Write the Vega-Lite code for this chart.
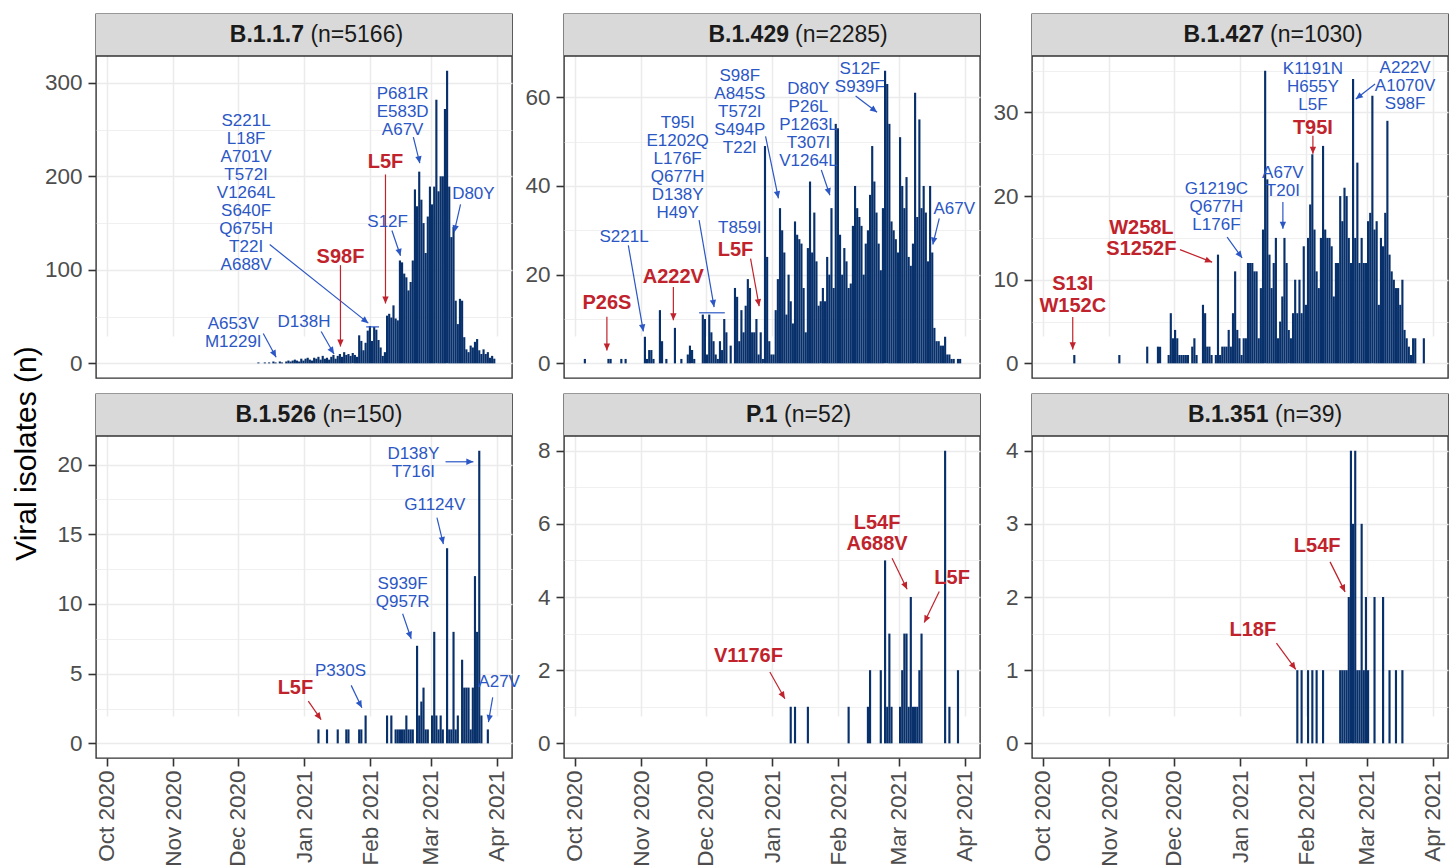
{
"$schema": "https://vega.github.io/schema/vega-lite/v6.json",
"background": "white",
"padding": {"left": 10, "top": 13, "right": 0, "bottom": 0},
"config": {
  "font": "Liberation Sans",
  "view": {"stroke": "#333333", "strokeWidth": 1.4},
  "axis": {"domain": false, "grid": true, "gridColor": "#ebebeb", "tickColor": "#333333", "tickWidth": 1.6, "tickSize": 8, "labelFont": "Liberation Sans", "labelFontSize": 22.5, "labelColor": "#4d4d4d", "labelPadding": 6, "labelOverlap": false, "labelBound": false, "labelFlush": false}
},
"datasets": {
  "strips": [{"panel":"B.1.1.7","n":"(n=5166)"},{"panel":"B.1.429","n":"(n=2285)"},{"panel":"B.1.427","n":"(n=1030)"},{"panel":"B.1.526","n":"(n=150)"},{"panel":"P.1","n":"(n=52)"},{"panel":"B.1.351","n":"(n=39)"}],
  "b117": [
    {"date":"2020-12-10","n":1},{"date":"2020-12-13","n":1},{"date":"2020-12-15","n":1},{"date":"2020-12-17","n":2},{"date":"2020-12-18","n":1},{"date":"2020-12-20","n":2},{"date":"2020-12-21","n":1},{"date":"2020-12-23","n":2},{"date":"2020-12-24","n":3},{"date":"2020-12-25","n":2},{"date":"2020-12-26","n":3},{"date":"2020-12-27","n":4},{"date":"2020-12-28","n":3},{"date":"2020-12-29","n":2},{"date":"2020-12-30","n":5},{"date":"2020-12-31","n":3},
    {"date":"2021-01-01","n":5},{"date":"2021-01-02","n":6},{"date":"2021-01-03","n":4},{"date":"2021-01-04","n":3},{"date":"2021-01-05","n":6},{"date":"2021-01-06","n":5},{"date":"2021-01-07","n":7},{"date":"2021-01-08","n":4},{"date":"2021-01-09","n":8},{"date":"2021-01-10","n":5},{"date":"2021-01-11","n":6},{"date":"2021-01-12","n":4},{"date":"2021-01-13","n":7},{"date":"2021-01-14","n":9},{"date":"2021-01-15","n":5},{"date":"2021-01-16","n":8},{"date":"2021-01-17","n":10},{"date":"2021-01-18","n":7},{"date":"2021-01-19","n":12},{"date":"2021-01-20","n":9},{"date":"2021-01-21","n":10},{"date":"2021-01-22","n":8},{"date":"2021-01-23","n":11},{"date":"2021-01-24","n":9},{"date":"2021-01-25","n":7},
    {"date":"2021-01-26","n":30},{"date":"2021-01-27","n":24},{"date":"2021-01-28","n":14},{"date":"2021-01-29","n":22},{"date":"2021-01-30","n":35},{"date":"2021-01-31","n":40},
    {"date":"2021-02-01","n":24},{"date":"2021-02-02","n":39},{"date":"2021-02-03","n":36},{"date":"2021-02-04","n":25},{"date":"2021-02-05","n":17},{"date":"2021-02-06","n":8},{"date":"2021-02-07","n":12},{"date":"2021-02-08","n":51},{"date":"2021-02-09","n":53},{"date":"2021-02-10","n":49},{"date":"2021-02-11","n":62},{"date":"2021-02-12","n":48},{"date":"2021-02-13","n":46},{"date":"2021-02-14","n":110},{"date":"2021-02-15","n":108},{"date":"2021-02-16","n":96},{"date":"2021-02-17","n":92},{"date":"2021-02-18","n":78},{"date":"2021-02-19","n":87},{"date":"2021-02-20","n":110},{"date":"2021-02-21","n":186},{"date":"2021-02-22","n":168},{"date":"2021-02-23","n":205},{"date":"2021-02-24","n":175},{"date":"2021-02-25","n":150},{"date":"2021-02-26","n":118},{"date":"2021-02-27","n":157},{"date":"2021-02-28","n":189},
    {"date":"2021-03-01","n":170},{"date":"2021-03-02","n":189},{"date":"2021-03-03","n":282},{"date":"2021-03-04","n":184},{"date":"2021-03-05","n":200},{"date":"2021-03-06","n":200},{"date":"2021-03-07","n":272},{"date":"2021-03-08","n":313},{"date":"2021-03-09","n":189},{"date":"2021-03-10","n":135},{"date":"2021-03-11","n":146},{"date":"2021-03-12","n":67},{"date":"2021-03-13","n":42},{"date":"2021-03-14","n":69},{"date":"2021-03-15","n":67},{"date":"2021-03-16","n":28},{"date":"2021-03-17","n":15},{"date":"2021-03-18","n":12},{"date":"2021-03-19","n":19},{"date":"2021-03-20","n":17},{"date":"2021-03-21","n":23},{"date":"2021-03-22","n":26},{"date":"2021-03-23","n":14},{"date":"2021-03-24","n":10},{"date":"2021-03-25","n":15},{"date":"2021-03-26","n":10},{"date":"2021-03-27","n":12},{"date":"2021-03-28","n":6},{"date":"2021-03-29","n":8},{"date":"2021-03-30","n":5}
  ],
  "b429": [
    {"date":"2020-10-05","n":1},{"date":"2020-10-16","n":1},{"date":"2020-10-17","n":1},{"date":"2020-10-22","n":1},{"date":"2020-10-24","n":1},
    {"date":"2020-11-02","n":6},{"date":"2020-11-03","n":1},{"date":"2020-11-04","n":3},{"date":"2020-11-05","n":3},{"date":"2020-11-06","n":1},{"date":"2020-11-09","n":12},{"date":"2020-11-10","n":5},{"date":"2020-11-12","n":1},{"date":"2020-11-16","n":8},{"date":"2020-11-19","n":1},{"date":"2020-11-22","n":2},{"date":"2020-11-23","n":4},{"date":"2020-11-24","n":3},{"date":"2020-11-25","n":1},{"date":"2020-11-29","n":11},{"date":"2020-11-30","n":10},
    {"date":"2020-12-01","n":2},{"date":"2020-12-02","n":11},{"date":"2020-12-03","n":7},{"date":"2020-12-04","n":5},{"date":"2020-12-05","n":2},{"date":"2020-12-06","n":1},{"date":"2020-12-07","n":5},{"date":"2020-12-08","n":3},{"date":"2020-12-09","n":10},{"date":"2020-12-10","n":7},{"date":"2020-12-12","n":4},{"date":"2020-12-14","n":17},{"date":"2020-12-15","n":15},{"date":"2020-12-16","n":5},{"date":"2020-12-17","n":12},{"date":"2020-12-18","n":7},{"date":"2020-12-19","n":13},{"date":"2020-12-20","n":19},{"date":"2020-12-21","n":17},{"date":"2020-12-22","n":7},{"date":"2020-12-23","n":7},{"date":"2020-12-24","n":10},{"date":"2020-12-25","n":2},{"date":"2020-12-26","n":7},{"date":"2020-12-27","n":1},{"date":"2020-12-28","n":49},{"date":"2020-12-29","n":24},{"date":"2020-12-30","n":5},{"date":"2020-12-31","n":2},
    {"date":"2021-01-01","n":2},{"date":"2021-01-02","n":12},{"date":"2021-01-03","n":19},{"date":"2021-01-04","n":35},{"date":"2021-01-05","n":30},{"date":"2021-01-06","n":25},{"date":"2021-01-07","n":11},{"date":"2021-01-08","n":20},{"date":"2021-01-09","n":14},{"date":"2021-01-10","n":9},{"date":"2021-01-11","n":32},{"date":"2021-01-12","n":29},{"date":"2021-01-13","n":28},{"date":"2021-01-14","n":27},{"date":"2021-01-15","n":17},{"date":"2021-01-16","n":7},{"date":"2021-01-17","n":26},{"date":"2021-01-18","n":41},{"date":"2021-01-19","n":25},{"date":"2021-01-20","n":34},{"date":"2021-01-21","n":23},{"date":"2021-01-22","n":13},{"date":"2021-01-23","n":14},{"date":"2021-01-24","n":17},{"date":"2021-01-25","n":14},{"date":"2021-01-26","n":24},{"date":"2021-01-27","n":20},{"date":"2021-01-28","n":35},{"date":"2021-01-29","n":17},{"date":"2021-01-30","n":54},{"date":"2021-01-31","n":53},
    {"date":"2021-02-01","n":29},{"date":"2021-02-02","n":20},{"date":"2021-02-03","n":26},{"date":"2021-02-04","n":23},{"date":"2021-02-05","n":17},{"date":"2021-02-06","n":18},{"date":"2021-02-07","n":31},{"date":"2021-02-08","n":40},{"date":"2021-02-09","n":35},{"date":"2021-02-10","n":33},{"date":"2021-02-11","n":31},{"date":"2021-02-12","n":20},{"date":"2021-02-13","n":27},{"date":"2021-02-14","n":30},{"date":"2021-02-15","n":38},{"date":"2021-02-16","n":49},{"date":"2021-02-17","n":41},{"date":"2021-02-18","n":34},{"date":"2021-02-19","n":27},{"date":"2021-02-20","n":21},{"date":"2021-02-21","n":35},{"date":"2021-02-22","n":66},{"date":"2021-02-23","n":63},{"date":"2021-02-24","n":54},{"date":"2021-02-25","n":32},{"date":"2021-02-26","n":30},{"date":"2021-02-27","n":28},{"date":"2021-02-28","n":25},
    {"date":"2021-03-01","n":51},{"date":"2021-03-02","n":40},{"date":"2021-03-03","n":35},{"date":"2021-03-04","n":42},{"date":"2021-03-05","n":24},{"date":"2021-03-06","n":22},{"date":"2021-03-07","n":27},{"date":"2021-03-08","n":61},{"date":"2021-03-09","n":33},{"date":"2021-03-10","n":55},{"date":"2021-03-11","n":35},{"date":"2021-03-12","n":40},{"date":"2021-03-13","n":34},{"date":"2021-03-14","n":23},{"date":"2021-03-15","n":40},{"date":"2021-03-16","n":25},{"date":"2021-03-17","n":8},{"date":"2021-03-18","n":5},{"date":"2021-03-19","n":5},{"date":"2021-03-20","n":4},{"date":"2021-03-21","n":4},{"date":"2021-03-22","n":6},{"date":"2021-03-23","n":2},{"date":"2021-03-24","n":2},{"date":"2021-03-25","n":1},{"date":"2021-03-26","n":1},{"date":"2021-03-28","n":1},{"date":"2021-03-29","n":1}
  ],
  "b427": [
    {"date":"2020-10-15","n":1},{"date":"2020-11-05","n":1},{"date":"2020-11-18","n":2},{"date":"2020-11-23","n":2},{"date":"2020-11-24","n":2},{"date":"2020-11-28","n":1},{"date":"2020-11-29","n":6},{"date":"2020-11-30","n":3},
    {"date":"2020-12-01","n":4},{"date":"2020-12-02","n":3},{"date":"2020-12-03","n":1},{"date":"2020-12-04","n":1},{"date":"2020-12-05","n":1},{"date":"2020-12-06","n":1},{"date":"2020-12-07","n":1},{"date":"2020-12-09","n":2},{"date":"2020-12-10","n":3},{"date":"2020-12-11","n":1},{"date":"2020-12-14","n":7},{"date":"2020-12-15","n":6},{"date":"2020-12-16","n":2},{"date":"2020-12-17","n":2},{"date":"2020-12-18","n":1},{"date":"2020-12-20","n":1},{"date":"2020-12-21","n":13},{"date":"2020-12-22","n":1},{"date":"2020-12-23","n":2},{"date":"2020-12-24","n":2},{"date":"2020-12-25","n":2},{"date":"2020-12-26","n":4},{"date":"2020-12-27","n":2},{"date":"2020-12-28","n":6},{"date":"2020-12-29","n":11},{"date":"2020-12-30","n":4},{"date":"2020-12-31","n":3},
    {"date":"2021-01-01","n":1},{"date":"2021-01-02","n":3},{"date":"2021-01-03","n":3},{"date":"2021-01-04","n":12},{"date":"2021-01-05","n":12},{"date":"2021-01-06","n":12},{"date":"2021-01-07","n":11},{"date":"2021-01-08","n":11},{"date":"2021-01-09","n":3},{"date":"2021-01-10","n":9},{"date":"2021-01-11","n":16},{"date":"2021-01-12","n":35},{"date":"2021-01-13","n":22},{"date":"2021-01-14","n":13},{"date":"2021-01-15","n":9},{"date":"2021-01-16","n":12},{"date":"2021-01-17","n":15},{"date":"2021-01-18","n":3},{"date":"2021-01-19","n":5},{"date":"2021-01-20","n":8},{"date":"2021-01-21","n":15},{"date":"2021-01-22","n":12},{"date":"2021-01-23","n":4},{"date":"2021-01-24","n":3},{"date":"2021-01-25","n":6},{"date":"2021-01-26","n":10},{"date":"2021-01-27","n":6},{"date":"2021-01-28","n":10},{"date":"2021-01-29","n":6},{"date":"2021-01-30","n":14},{"date":"2021-01-31","n":7},
    {"date":"2021-02-01","n":15},{"date":"2021-02-02","n":19},{"date":"2021-02-03","n":25},{"date":"2021-02-04","n":16},{"date":"2021-02-05","n":11},{"date":"2021-02-06","n":9},{"date":"2021-02-07","n":15},{"date":"2021-02-08","n":26},{"date":"2021-02-09","n":16},{"date":"2021-02-10","n":15},{"date":"2021-02-11","n":15},{"date":"2021-02-12","n":14},{"date":"2021-02-13","n":8},{"date":"2021-02-14","n":12},{"date":"2021-02-15","n":12},{"date":"2021-02-16","n":20},{"date":"2021-02-17","n":17},{"date":"2021-02-18","n":21},{"date":"2021-02-19","n":20},{"date":"2021-02-20","n":15},{"date":"2021-02-21","n":12},{"date":"2021-02-22","n":34},{"date":"2021-02-23","n":15},{"date":"2021-02-24","n":24},{"date":"2021-02-25","n":12},{"date":"2021-02-26","n":15},{"date":"2021-02-27","n":12},{"date":"2021-02-28","n":12},
    {"date":"2021-03-01","n":17},{"date":"2021-03-02","n":18},{"date":"2021-03-03","n":32},{"date":"2021-03-04","n":16},{"date":"2021-03-05","n":17},{"date":"2021-03-06","n":7},{"date":"2021-03-07","n":15},{"date":"2021-03-08","n":14},{"date":"2021-03-09","n":18},{"date":"2021-03-10","n":29},{"date":"2021-03-11","n":13},{"date":"2021-03-12","n":11},{"date":"2021-03-13","n":10},{"date":"2021-03-14","n":9},{"date":"2021-03-15","n":9},{"date":"2021-03-16","n":7},{"date":"2021-03-17","n":10},{"date":"2021-03-18","n":4},{"date":"2021-03-19","n":3},{"date":"2021-03-20","n":2},{"date":"2021-03-21","n":1},{"date":"2021-03-22","n":3},{"date":"2021-03-23","n":3},{"date":"2021-03-27","n":3}
  ],
  "b526": [
    {"date":"2021-01-07","n":1},{"date":"2021-01-11","n":1},{"date":"2021-01-16","n":1},{"date":"2021-01-20","n":1},{"date":"2021-01-21","n":1},{"date":"2021-01-26","n":1},{"date":"2021-01-27","n":1},{"date":"2021-01-29","n":2},
    {"date":"2021-02-08","n":2},{"date":"2021-02-10","n":2},{"date":"2021-02-12","n":1},{"date":"2021-02-13","n":1},{"date":"2021-02-14","n":1},{"date":"2021-02-15","n":1},{"date":"2021-02-16","n":1},{"date":"2021-02-17","n":2},{"date":"2021-02-18","n":1},{"date":"2021-02-19","n":1},{"date":"2021-02-20","n":1},{"date":"2021-02-22","n":7},{"date":"2021-02-23","n":2},{"date":"2021-02-24","n":3},{"date":"2021-02-25","n":4},{"date":"2021-02-26","n":1},{"date":"2021-02-27","n":1},
    {"date":"2021-03-01","n":2},{"date":"2021-03-02","n":8},{"date":"2021-03-03","n":2},{"date":"2021-03-04","n":1},{"date":"2021-03-05","n":2},{"date":"2021-03-06","n":1},{"date":"2021-03-08","n":14},{"date":"2021-03-09","n":1},{"date":"2021-03-10","n":1},{"date":"2021-03-11","n":8},{"date":"2021-03-12","n":1},{"date":"2021-03-13","n":2},{"date":"2021-03-15","n":6},{"date":"2021-03-16","n":4},{"date":"2021-03-17","n":4},{"date":"2021-03-18","n":4},{"date":"2021-03-19","n":1},{"date":"2021-03-20","n":4},{"date":"2021-03-21","n":12},{"date":"2021-03-22","n":8},{"date":"2021-03-23","n":21},{"date":"2021-03-24","n":2},{"date":"2021-03-27","n":1}
  ],
  "p1": [
    {"date":"2021-01-09","n":1},{"date":"2021-01-11","n":1},{"date":"2021-01-17","n":1},{"date":"2021-02-05","n":1},{"date":"2021-02-14","n":1},{"date":"2021-02-15","n":2},{"date":"2021-02-20","n":2},{"date":"2021-02-22","n":5},{"date":"2021-02-23","n":1},{"date":"2021-02-24","n":3},{"date":"2021-02-25","n":1},
    {"date":"2021-03-01","n":1},{"date":"2021-03-02","n":2},{"date":"2021-03-03","n":3},{"date":"2021-03-04","n":3},{"date":"2021-03-05","n":1},{"date":"2021-03-06","n":4},{"date":"2021-03-07","n":1},{"date":"2021-03-08","n":1},{"date":"2021-03-09","n":1},{"date":"2021-03-10","n":2},{"date":"2021-03-11","n":3},{"date":"2021-03-22","n":8},{"date":"2021-03-24","n":1},{"date":"2021-03-28","n":2}
  ],
  "b351": [
    {"date":"2021-01-27","n":1},{"date":"2021-01-29","n":1},{"date":"2021-02-01","n":1},{"date":"2021-02-03","n":1},{"date":"2021-02-05","n":1},{"date":"2021-02-08","n":1},{"date":"2021-02-16","n":1},{"date":"2021-02-17","n":1},{"date":"2021-02-18","n":1},{"date":"2021-02-19","n":1},{"date":"2021-02-20","n":2},{"date":"2021-02-21","n":4},{"date":"2021-02-22","n":3},{"date":"2021-02-23","n":4},{"date":"2021-02-24","n":1},{"date":"2021-02-25","n":1},{"date":"2021-02-26","n":3},{"date":"2021-02-27","n":1},{"date":"2021-02-28","n":2},{"date":"2021-03-01","n":1},{"date":"2021-03-04","n":2},{"date":"2021-03-08","n":2},{"date":"2021-03-11","n":1},{"date":"2021-03-14","n":1},{"date":"2021-03-17","n":1}
  ],
  "n1": [
    {"kind":"blue","label":["S221L","L18F","A701V","T572I","V1264L","S640F","Q675H","T22I","A688V"],"tx":"2020-12-05","ty":259.2,"ax":"2020-12-16","ay":127,"bx":"2021-01-31","by":43,"ang":129},
    {"kind":"blue","cx1":"2021-01-30","cx2":"2021-02-05","cy":39},
    {"kind":"blue","label":["A653V","M1229I"],"tx":"2020-11-29","ty":42.1,"ax":"2020-12-13","ay":32,"bx":"2020-12-19","by":6.5,"ang":152},
    {"kind":"blue","label":["D138H"],"tx":"2021-01-01","ty":44,"ax":"2021-01-09","ay":34,"bx":"2021-01-15","by":10,"ang":148},
    {"kind":"red","label":["S98F"],"tx":"2021-01-18","ty":114,"ax":"2021-01-18","ay":105,"bx":"2021-01-18","by":18,"ang":180},
    {"kind":"red","label":["L5F"],"tx":"2021-02-08","ty":215,"ax":"2021-02-08","ay":202,"bx":"2021-02-08","by":64,"ang":180},
    {"kind":"blue","label":["S12F"],"tx":"2021-02-09","ty":151,"ax":"2021-02-11","ay":142,"bx":"2021-02-15","by":115,"ang":164},
    {"kind":"blue","label":["P681R","E583D","A67V"],"tx":"2021-02-16","ty":287.7,"ax":"2021-02-21","ay":242,"bx":"2021-02-24","by":214,"ang":169},
    {"kind":"blue","label":["D80Y"],"tx":"2021-03-21","ty":181,"ax":"2021-03-15","ay":170,"bx":"2021-03-12","by":140,"ang":193}
  ],
  "n2": [
    {"kind":"red","label":["P26S"],"tx":"2020-10-16","ty":13.5,"ax":"2020-10-16","ay":10.5,"bx":"2020-10-16","by":2.9,"ang":180},
    {"kind":"blue","label":["S221L"],"tx":"2020-10-24","ty":28.5,"ax":"2020-10-26","ay":26.6,"bx":"2020-11-02","by":7.2,"ang":170},
    {"kind":"red","label":["A222V"],"tx":"2020-11-16","ty":19.5,"ax":"2020-11-16","ay":17.2,"bx":"2020-11-16","by":9.7,"ang":180},
    {"kind":"blue","label":["T95I","E1202Q","L176F","Q677H","D138Y","H49Y"],"tx":"2020-11-18","ty":54.26,"ax":"2020-11-28","ay":32.3,"bx":"2020-12-05","by":12.7,"ang":170},
    {"kind":"blue","cx1":"2020-11-28","cx2":"2020-12-10","cy":11.4},
    {"kind":"blue","label":["T859I"],"tx":"2020-12-17","ty":30.5},
    {"kind":"red","label":["L5F"],"tx":"2020-12-15","ty":25.5,"ax":"2020-12-22","ay":23.6,"bx":"2020-12-26","by":12.9,"ang":170},
    {"kind":"blue","label":["S98F","A845S","T572I","S494P","T22I"],"tx":"2020-12-17","ty":64.79,"ax":"2020-12-29","ay":51.2,"bx":"2021-01-04","by":37.2,"ang":168},
    {"kind":"blue","label":["D80Y","P26L","P1263L","T307I","V1264L"],"tx":"2021-01-18","ty":61.8,"ax":"2021-01-24","ay":43.6,"bx":"2021-01-28","by":37.9,"ang":162},
    {"kind":"blue","label":["S12F","S939F"],"tx":"2021-02-11","ty":66.44,"ax":"2021-02-09","ay":60.3,"bx":"2021-02-19","by":56.6,"ang":128},
    {"kind":"blue","label":["A67V"],"tx":"2021-03-27","ty":34.9,"ax":"2021-03-20","ay":32.7,"bx":"2021-03-17","by":26.8,"ang":191}
  ],
  "n3": [
    {"kind":"red","label":["S13I","W152C"],"tx":"2020-10-15","ty":9.45,"ax":"2020-10-15","ay":5.53,"bx":"2020-10-15","by":1.67,"ang":180},
    {"kind":"red","label":["W258L","S1252F"],"tx":"2020-11-16","ty":16.22,"ax":"2020-12-04","ay":13.6,"bx":"2020-12-19","by":12.1,"ang":111},
    {"kind":"blue","label":["G1219C","Q677H","L176F"],"tx":"2020-12-21","ty":20.85,"ax":"2020-12-26","ay":15.1,"bx":"2021-01-02","by":12.6,"ang":144},
    {"kind":"blue","label":["A67V","T20I"],"tx":"2021-01-21","ty":22.8,"ax":"2021-01-21","ay":19.3,"bx":"2021-01-21","by":16.1,"ang":180},
    {"kind":"blue","label":["K1191N","H655Y","L5F"],"tx":"2021-02-04","ty":35.16},
    {"kind":"red","label":["T95I"],"tx":"2021-02-04","ty":28.2,"ax":"2021-02-04","ay":27.2,"bx":"2021-02-04","by":25.05,"ang":180},
    {"kind":"blue","label":["A222V","A1070V","S98F"],"tx":"2021-03-19","ty":35.35,"ax":"2021-03-05","ay":33.4,"bx":"2021-02-24","by":31.6,"ang":232}
  ],
  "n4": [
    {"kind":"red","label":["L5F"],"tx":"2020-12-28","ty":4.0,"ax":"2021-01-03","ay":3.03,"bx":"2021-01-09","by":1.7,"ang":144},
    {"kind":"blue","label":["P330S"],"tx":"2021-01-18","ty":5.18,"ax":"2021-01-23","ay":4.16,"bx":"2021-01-28","by":2.56,"ang":152},
    {"kind":"blue","label":["S939F","Q957R"],"tx":"2021-02-16","ty":11.45,"ax":"2021-02-16","ay":9.3,"bx":"2021-02-20","by":7.5,"ang":161},
    {"kind":"blue","label":["G1124V"],"tx":"2021-03-03","ty":17.1,"ax":"2021-03-04","ay":16.2,"bx":"2021-03-07","by":14.3,"ang":167},
    {"kind":"blue","label":["D138Y","T716I"],"tx":"2021-02-21","ty":20.78,"ax":"2021-03-08","ay":20.2,"bx":"2021-03-21","by":20.2,"ang":90},
    {"kind":"blue","label":["A27V"],"tx":"2021-04-02","ty":4.4,"ax":"2021-03-30","ay":3.3,"bx":"2021-03-28","by":1.53,"ang":191}
  ],
  "n5": [
    {"kind":"red","label":["V1176F"],"tx":"2020-12-21","ty":2.38,"ax":"2020-12-31","ay":1.95,"bx":"2021-01-07","by":1.22,"ang":149},
    {"kind":"red","label":["L54F","A688V"],"tx":"2021-02-19","ty":6.03,"ax":"2021-02-26","ay":5.06,"bx":"2021-03-05","by":4.21,"ang":155},
    {"kind":"red","label":["L5F"],"tx":"2021-03-26","ty":4.51,"ax":"2021-03-20","ay":4.15,"bx":"2021-03-13","by":3.3,"ang":206}
  ],
  "n6": [
    {"kind":"red","label":["L54F"],"tx":"2021-02-06","ty":2.7,"ax":"2021-02-12","ay":2.48,"bx":"2021-02-19","by":2.07,"ang":155},
    {"kind":"red","label":["L18F"],"tx":"2021-01-07","ty":1.55,"ax":"2021-01-18","ay":1.37,"bx":"2021-01-27","by":1.01,"ang":144}
  ]
},
"columns": 3,
"bounds": "flush",
"spacing": {"row": 16, "column": 52},
"concat": [
  {
    "width": 416, "height": 364,
    "layer": [
      {"data": {"name": "b117"}, "mark": {"type": "bar", "color": "#08306b", "binSpacing": 0},
       "encoding": {
         "x": {"field": "date", "timeUnit": "utcyearmonthdate", "type": "temporal", "scale": {"type": "utc", "domain": [{"year":2020,"month":9,"date":26,"utc":true},{"year":2021,"month":4,"date":8,"utc":true}]},
               "axis": {"title": null, "labels": false, "ticks": false, "values": [{"year":2020,"month":10,"date":1,"utc":true},{"year":2020,"month":10,"date":16,"utc":true},{"year":2020,"month":11,"date":1,"utc":true},{"year":2020,"month":11,"date":16,"utc":true},{"year":2020,"month":12,"date":1,"utc":true},{"year":2020,"month":12,"date":16,"utc":true},{"year":2021,"month":1,"date":1,"utc":true},{"year":2021,"month":1,"date":16,"utc":true},{"year":2021,"month":2,"date":1,"utc":true},{"year":2021,"month":2,"date":15,"utc":true},{"year":2021,"month":3,"date":1,"utc":true},{"year":2021,"month":3,"date":16,"utc":true},{"year":2021,"month":4,"date":1,"utc":true}],
                        "gridWidth": {"condition": {"test": "utcdate(datum.value) === 1", "value": 1.5}, "value": 0.75}}},
         "y": {"field": "n", "type": "quantitative", "scale": {"domain": [-15.65, 328.65], "range": [364, 42], "nice": false, "zero": false},
               "axis": {"title": null, "values": [0,50,100,150,200,250,300], "labelExpr": "datum.value % 100 === 0 ? format(datum.value, 'd') : ''",
                        "tickOpacity": {"condition": {"test": "datum.value % 100 === 0", "value": 1}, "value": 0},
                        "gridWidth": {"condition": {"test": "datum.value % 100 === 0", "value": 1.5}, "value": 0.75}}},
         "y2": {"datum": 0}
       }},
      {"data": {"name": "strips"}, "transform": [{"filter": "datum.panel === 'B.1.1.7'"}],
       "mark": {"type": "rect", "fill": "#d9d9d9", "stroke": "#333333", "strokeWidth": 1.4, "clip": true},
       "encoding": {"x": {"datum": {"year":2020,"month":9,"date":1,"utc":true}, "type": "temporal"}, "x2": {"datum": {"year":2021,"month":5,"date":1,"utc":true}}, "y": {"datum": 328.65}, "y2": {"datum": 900}}},
      {"data": {"name": "strips"}, "transform": [{"filter": "datum.panel === 'B.1.1.7'"}],
       "mark": {"type": "text", "fontSize": 23, "fontWeight": "bold", "color": "#1a1a1a", "align": "right", "baseline": "middle", "dx": 0},
       "encoding": {"text": {"field": "panel"}, "y": {"datum": 351.1}}},
      {"data": {"name": "strips"}, "transform": [{"filter": "datum.panel === 'B.1.1.7'"}],
       "mark": {"type": "text", "fontSize": 23, "color": "#1a1a1a", "align": "left", "baseline": "middle", "dx": 6.4},
       "encoding": {"text": {"field": "n"}, "y": {"datum": 351.1}}},
      {"data": {"name": "n1"}, "transform": [{"filter": "datum.ax != null"}], "mark": {"type": "rule", "strokeWidth": 1.2},
       "encoding": {"x": {"field": "ax", "type": "temporal"}, "x2": {"field": "bx"}, "y": {"field": "ay", "type": "quantitative"}, "y2": {"field": "by"},
                    "color": {"field": "kind", "type": "nominal", "scale": {"domain": ["blue","red"], "range": ["#2b57c5","#c0232c"]}, "legend": null}}},
      {"data": {"name": "n1"}, "transform": [{"filter": "datum.ax != null"}], "mark": {"type": "point", "shape": "M0,0L0.45,1L-0.45,1Z", "filled": true, "size": 200, "opacity": 1, "strokeWidth": 0},
       "encoding": {"x": {"field": "bx", "type": "temporal"}, "y": {"field": "by", "type": "quantitative"}, "angle": {"field": "ang", "type": "quantitative", "scale": null},
                    "color": {"field": "kind", "type": "nominal", "scale": {"domain": ["blue","red"], "range": ["#2b57c5","#c0232c"]}, "legend": null}}},
      {"data": {"name": "n1"}, "transform": [{"filter": "datum.cx1 != null"}], "mark": {"type": "rule", "strokeWidth": 1.2},
       "encoding": {"x": {"field": "cx1", "type": "temporal"}, "x2": {"field": "cx2"}, "y": {"field": "cy", "type": "quantitative"},
                    "color": {"field": "kind", "type": "nominal", "scale": {"domain": ["blue","red"], "range": ["#2b57c5","#c0232c"]}, "legend": null}}},
      {"data": {"name": "n1"}, "transform": [{"filter": "datum.kind === 'blue' && datum.label != null"}], "mark": {"type": "text", "fontSize": 17, "lineHeight": 18, "color": "#2b57c5", "align": "center", "baseline": "middle"},
       "encoding": {"x": {"field": "tx", "type": "temporal"}, "y": {"field": "ty", "type": "quantitative"}, "text": {"field": "label", "type": "nominal"}}},
      {"data": {"name": "n1"}, "transform": [{"filter": "datum.kind === 'red' && datum.label != null"}], "mark": {"type": "text", "fontSize": 20, "fontWeight": "bold", "lineHeight": 21.5, "color": "#c0232c", "align": "center", "baseline": "middle"},
       "encoding": {"x": {"field": "tx", "type": "temporal"}, "y": {"field": "ty", "type": "quantitative"}, "text": {"field": "label", "type": "nominal"}}}
    ]
  },
  {
    "width": 416, "height": 364,
    "layer": [
      {"data": {"name": "b429"}, "mark": {"type": "bar", "color": "#08306b", "binSpacing": 0},
       "encoding": {
         "x": {"field": "date", "timeUnit": "utcyearmonthdate", "type": "temporal", "scale": {"type": "utc", "domain": [{"year":2020,"month":9,"date":26,"utc":true},{"year":2021,"month":4,"date":8,"utc":true}]},
               "axis": {"title": null, "labels": false, "ticks": false, "values": [{"year":2020,"month":10,"date":1,"utc":true},{"year":2020,"month":10,"date":16,"utc":true},{"year":2020,"month":11,"date":1,"utc":true},{"year":2020,"month":11,"date":16,"utc":true},{"year":2020,"month":12,"date":1,"utc":true},{"year":2020,"month":12,"date":16,"utc":true},{"year":2021,"month":1,"date":1,"utc":true},{"year":2021,"month":1,"date":16,"utc":true},{"year":2021,"month":2,"date":1,"utc":true},{"year":2021,"month":2,"date":15,"utc":true},{"year":2021,"month":3,"date":1,"utc":true},{"year":2021,"month":3,"date":16,"utc":true},{"year":2021,"month":4,"date":1,"utc":true}],
                        "gridWidth": {"condition": {"test": "utcdate(datum.value) === 1", "value": 1.5}, "value": 0.75}}},
         "y": {"field": "n", "type": "quantitative", "scale": {"domain": [-3.3, 69.3], "range": [364, 42], "nice": false, "zero": false},
               "axis": {"title": null, "values": [0,10,20,30,40,50,60], "labelExpr": "datum.value % 20 === 0 ? format(datum.value, 'd') : ''",
                        "tickOpacity": {"condition": {"test": "datum.value % 20 === 0", "value": 1}, "value": 0},
                        "gridWidth": {"condition": {"test": "datum.value % 20 === 0", "value": 1.5}, "value": 0.75}}},
         "y2": {"datum": 0}
       }},
      {"data": {"name": "strips"}, "transform": [{"filter": "datum.panel === 'B.1.429'"}],
       "mark": {"type": "rect", "fill": "#d9d9d9", "stroke": "#333333", "strokeWidth": 1.4, "clip": true},
       "encoding": {"x": {"datum": {"year":2020,"month":9,"date":1,"utc":true}, "type": "temporal"}, "x2": {"datum": {"year":2021,"month":5,"date":1,"utc":true}}, "y": {"datum": 69.3}, "y2": {"datum": 300}}},
      {"data": {"name": "strips"}, "transform": [{"filter": "datum.panel === 'B.1.429'"}],
       "mark": {"type": "text", "fontSize": 23, "fontWeight": "bold", "color": "#1a1a1a", "align": "right", "baseline": "middle", "dx": 17},
       "encoding": {"text": {"field": "panel"}, "y": {"datum": 74.04}}},
      {"data": {"name": "strips"}, "transform": [{"filter": "datum.panel === 'B.1.429'"}],
       "mark": {"type": "text", "fontSize": 23, "color": "#1a1a1a", "align": "left", "baseline": "middle", "dx": 23},
       "encoding": {"text": {"field": "n"}, "y": {"datum": 74.04}}},
      {"data": {"name": "n2"}, "transform": [{"filter": "datum.ax != null"}], "mark": {"type": "rule", "strokeWidth": 1.2},
       "encoding": {"x": {"field": "ax", "type": "temporal"}, "x2": {"field": "bx"}, "y": {"field": "ay", "type": "quantitative"}, "y2": {"field": "by"},
                    "color": {"field": "kind", "type": "nominal", "scale": {"domain": ["blue","red"], "range": ["#2b57c5","#c0232c"]}, "legend": null}}},
      {"data": {"name": "n2"}, "transform": [{"filter": "datum.ax != null"}], "mark": {"type": "point", "shape": "M0,0L0.45,1L-0.45,1Z", "filled": true, "size": 200, "opacity": 1, "strokeWidth": 0},
       "encoding": {"x": {"field": "bx", "type": "temporal"}, "y": {"field": "by", "type": "quantitative"}, "angle": {"field": "ang", "type": "quantitative", "scale": null},
                    "color": {"field": "kind", "type": "nominal", "scale": {"domain": ["blue","red"], "range": ["#2b57c5","#c0232c"]}, "legend": null}}},
      {"data": {"name": "n2"}, "transform": [{"filter": "datum.cx1 != null"}], "mark": {"type": "rule", "strokeWidth": 1.2},
       "encoding": {"x": {"field": "cx1", "type": "temporal"}, "x2": {"field": "cx2"}, "y": {"field": "cy", "type": "quantitative"},
                    "color": {"field": "kind", "type": "nominal", "scale": {"domain": ["blue","red"], "range": ["#2b57c5","#c0232c"]}, "legend": null}}},
      {"data": {"name": "n2"}, "transform": [{"filter": "datum.kind === 'blue' && datum.label != null"}], "mark": {"type": "text", "fontSize": 17, "lineHeight": 18, "color": "#2b57c5", "align": "center", "baseline": "middle"},
       "encoding": {"x": {"field": "tx", "type": "temporal"}, "y": {"field": "ty", "type": "quantitative"}, "text": {"field": "label", "type": "nominal"}}},
      {"data": {"name": "n2"}, "transform": [{"filter": "datum.kind === 'red' && datum.label != null"}], "mark": {"type": "text", "fontSize": 20, "fontWeight": "bold", "lineHeight": 21.5, "color": "#c0232c", "align": "center", "baseline": "middle"},
       "encoding": {"x": {"field": "tx", "type": "temporal"}, "y": {"field": "ty", "type": "quantitative"}, "text": {"field": "label", "type": "nominal"}}}
    ]
  },
  {
    "width": 416, "height": 364,
    "layer": [
      {"data": {"name": "b427"}, "mark": {"type": "bar", "color": "#08306b", "binSpacing": 0},
       "encoding": {
         "x": {"field": "date", "timeUnit": "utcyearmonthdate", "type": "temporal", "scale": {"type": "utc", "domain": [{"year":2020,"month":9,"date":26,"utc":true},{"year":2021,"month":4,"date":8,"utc":true}]},
               "axis": {"title": null, "labels": false, "ticks": false, "values": [{"year":2020,"month":10,"date":1,"utc":true},{"year":2020,"month":10,"date":16,"utc":true},{"year":2020,"month":11,"date":1,"utc":true},{"year":2020,"month":11,"date":16,"utc":true},{"year":2020,"month":12,"date":1,"utc":true},{"year":2020,"month":12,"date":16,"utc":true},{"year":2021,"month":1,"date":1,"utc":true},{"year":2021,"month":1,"date":16,"utc":true},{"year":2021,"month":2,"date":1,"utc":true},{"year":2021,"month":2,"date":15,"utc":true},{"year":2021,"month":3,"date":1,"utc":true},{"year":2021,"month":3,"date":16,"utc":true},{"year":2021,"month":4,"date":1,"utc":true}],
                        "gridWidth": {"condition": {"test": "utcdate(datum.value) === 1", "value": 1.5}, "value": 0.75}}},
         "y": {"field": "n", "type": "quantitative", "scale": {"domain": [-1.75, 36.75], "range": [364, 42], "nice": false, "zero": false},
               "axis": {"title": null, "values": [0,5,10,15,20,25,30,35], "labelExpr": "datum.value % 10 === 0 ? format(datum.value, 'd') : ''",
                        "tickOpacity": {"condition": {"test": "datum.value % 10 === 0", "value": 1}, "value": 0},
                        "gridWidth": {"condition": {"test": "datum.value % 10 === 0", "value": 1.5}, "value": 0.75}}},
         "y2": {"datum": 0}
       }},
      {"data": {"name": "strips"}, "transform": [{"filter": "datum.panel === 'B.1.427'"}],
       "mark": {"type": "rect", "fill": "#d9d9d9", "stroke": "#333333", "strokeWidth": 1.4, "clip": true},
       "encoding": {"x": {"datum": {"year":2020,"month":9,"date":1,"utc":true}, "type": "temporal"}, "x2": {"datum": {"year":2021,"month":5,"date":1,"utc":true}}, "y": {"datum": 36.75}, "y2": {"datum": 200}}},
      {"data": {"name": "strips"}, "transform": [{"filter": "datum.panel === 'B.1.427'"}],
       "mark": {"type": "text", "fontSize": 23, "fontWeight": "bold", "color": "#1a1a1a", "align": "right", "baseline": "middle", "dx": 24},
       "encoding": {"text": {"field": "panel"}, "y": {"datum": 39.26}}},
      {"data": {"name": "strips"}, "transform": [{"filter": "datum.panel === 'B.1.427'"}],
       "mark": {"type": "text", "fontSize": 23, "color": "#1a1a1a", "align": "left", "baseline": "middle", "dx": 30},
       "encoding": {"text": {"field": "n"}, "y": {"datum": 39.26}}},
      {"data": {"name": "n3"}, "transform": [{"filter": "datum.ax != null"}], "mark": {"type": "rule", "strokeWidth": 1.2},
       "encoding": {"x": {"field": "ax", "type": "temporal"}, "x2": {"field": "bx"}, "y": {"field": "ay", "type": "quantitative"}, "y2": {"field": "by"},
                    "color": {"field": "kind", "type": "nominal", "scale": {"domain": ["blue","red"], "range": ["#2b57c5","#c0232c"]}, "legend": null}}},
      {"data": {"name": "n3"}, "transform": [{"filter": "datum.ax != null"}], "mark": {"type": "point", "shape": "M0,0L0.45,1L-0.45,1Z", "filled": true, "size": 200, "opacity": 1, "strokeWidth": 0},
       "encoding": {"x": {"field": "bx", "type": "temporal"}, "y": {"field": "by", "type": "quantitative"}, "angle": {"field": "ang", "type": "quantitative", "scale": null},
                    "color": {"field": "kind", "type": "nominal", "scale": {"domain": ["blue","red"], "range": ["#2b57c5","#c0232c"]}, "legend": null}}},
      {"data": {"name": "n3"}, "transform": [{"filter": "datum.kind === 'blue' && datum.label != null"}], "mark": {"type": "text", "fontSize": 17, "lineHeight": 18, "color": "#2b57c5", "align": "center", "baseline": "middle"},
       "encoding": {"x": {"field": "tx", "type": "temporal"}, "y": {"field": "ty", "type": "quantitative"}, "text": {"field": "label", "type": "nominal"}}},
      {"data": {"name": "n3"}, "transform": [{"filter": "datum.kind === 'red' && datum.label != null"}], "mark": {"type": "text", "fontSize": 20, "fontWeight": "bold", "lineHeight": 21.5, "color": "#c0232c", "align": "center", "baseline": "middle"},
       "encoding": {"x": {"field": "tx", "type": "temporal"}, "y": {"field": "ty", "type": "quantitative"}, "text": {"field": "label", "type": "nominal"}}}
    ]
  },
  {
    "width": 416, "height": 364,
    "layer": [
      {"data": {"name": "b526"}, "mark": {"type": "bar", "color": "#08306b", "binSpacing": 0},
       "encoding": {
         "x": {"field": "date", "timeUnit": "utcyearmonthdate", "type": "temporal", "scale": {"type": "utc", "domain": [{"year":2020,"month":9,"date":26,"utc":true},{"year":2021,"month":4,"date":8,"utc":true}]},
               "axis": {"title": null, "values": [{"year":2020,"month":10,"date":1,"utc":true},{"year":2020,"month":10,"date":16,"utc":true},{"year":2020,"month":11,"date":1,"utc":true},{"year":2020,"month":11,"date":16,"utc":true},{"year":2020,"month":12,"date":1,"utc":true},{"year":2020,"month":12,"date":16,"utc":true},{"year":2021,"month":1,"date":1,"utc":true},{"year":2021,"month":1,"date":16,"utc":true},{"year":2021,"month":2,"date":1,"utc":true},{"year":2021,"month":2,"date":15,"utc":true},{"year":2021,"month":3,"date":1,"utc":true},{"year":2021,"month":3,"date":16,"utc":true},{"year":2021,"month":4,"date":1,"utc":true}],
                        "labelExpr": "utcdate(datum.value) === 1 ? utcFormat(datum.value, '%b %Y') : ''", "labelAngle": 270, "labelAlign": "right", "labelBaseline": "middle", "labelPadding": 4,
                        "tickOpacity": {"condition": {"test": "utcdate(datum.value) === 1", "value": 1}, "value": 0},
                        "gridWidth": {"condition": {"test": "utcdate(datum.value) === 1", "value": 1.5}, "value": 0.75}}},
         "y": {"field": "n", "type": "quantitative", "scale": {"domain": [-1.05, 22.05], "range": [364, 42], "nice": false, "zero": false},
               "axis": {"title": "Viral isolates (n)", "titleFont": "Liberation Sans", "titleFontSize": 30, "titleFontWeight": "normal", "titleColor": "#000000", "titleAngle": 270, "titleAlign": "center", "titleBaseline": "middle", "titleX": -70, "titleY": 59,
                        "values": [0,2.5,5,7.5,10,12.5,15,17.5,20], "labelExpr": "datum.value % 5 === 0 ? format(datum.value, 'd') : ''",
                        "tickOpacity": {"condition": {"test": "datum.value % 5 === 0", "value": 1}, "value": 0},
                        "gridWidth": {"condition": {"test": "datum.value % 5 === 0", "value": 1.5}, "value": 0.75}}},
         "y2": {"datum": 0}
       }},
      {"data": {"name": "strips"}, "transform": [{"filter": "datum.panel === 'B.1.526'"}],
       "mark": {"type": "rect", "fill": "#d9d9d9", "stroke": "#333333", "strokeWidth": 1.4, "clip": true},
       "encoding": {"x": {"datum": {"year":2020,"month":9,"date":1,"utc":true}, "type": "temporal"}, "x2": {"datum": {"year":2021,"month":5,"date":1,"utc":true}}, "y": {"datum": 22.05}, "y2": {"datum": 120}}},
      {"data": {"name": "strips"}, "transform": [{"filter": "datum.panel === 'B.1.526'"}],
       "mark": {"type": "text", "fontSize": 23, "fontWeight": "bold", "color": "#1a1a1a", "align": "right", "baseline": "middle", "dx": 12},
       "encoding": {"text": {"field": "panel"}, "y": {"datum": 23.56}}},
      {"data": {"name": "strips"}, "transform": [{"filter": "datum.panel === 'B.1.526'"}],
       "mark": {"type": "text", "fontSize": 23, "color": "#1a1a1a", "align": "left", "baseline": "middle", "dx": 18.4},
       "encoding": {"text": {"field": "n"}, "y": {"datum": 23.56}}},
      {"data": {"name": "n4"}, "transform": [{"filter": "datum.ax != null"}], "mark": {"type": "rule", "strokeWidth": 1.2},
       "encoding": {"x": {"field": "ax", "type": "temporal"}, "x2": {"field": "bx"}, "y": {"field": "ay", "type": "quantitative"}, "y2": {"field": "by"},
                    "color": {"field": "kind", "type": "nominal", "scale": {"domain": ["blue","red"], "range": ["#2b57c5","#c0232c"]}, "legend": null}}},
      {"data": {"name": "n4"}, "transform": [{"filter": "datum.ax != null"}], "mark": {"type": "point", "shape": "M0,0L0.45,1L-0.45,1Z", "filled": true, "size": 200, "opacity": 1, "strokeWidth": 0},
       "encoding": {"x": {"field": "bx", "type": "temporal"}, "y": {"field": "by", "type": "quantitative"}, "angle": {"field": "ang", "type": "quantitative", "scale": null},
                    "color": {"field": "kind", "type": "nominal", "scale": {"domain": ["blue","red"], "range": ["#2b57c5","#c0232c"]}, "legend": null}}},
      {"data": {"name": "n4"}, "transform": [{"filter": "datum.kind === 'blue' && datum.label != null"}], "mark": {"type": "text", "fontSize": 17, "lineHeight": 18, "color": "#2b57c5", "align": "center", "baseline": "middle"},
       "encoding": {"x": {"field": "tx", "type": "temporal"}, "y": {"field": "ty", "type": "quantitative"}, "text": {"field": "label", "type": "nominal"}}},
      {"data": {"name": "n4"}, "transform": [{"filter": "datum.kind === 'red' && datum.label != null"}], "mark": {"type": "text", "fontSize": 20, "fontWeight": "bold", "lineHeight": 21.5, "color": "#c0232c", "align": "center", "baseline": "middle"},
       "encoding": {"x": {"field": "tx", "type": "temporal"}, "y": {"field": "ty", "type": "quantitative"}, "text": {"field": "label", "type": "nominal"}}}
    ]
  },
  {
    "width": 416, "height": 364,
    "layer": [
      {"data": {"name": "p1"}, "mark": {"type": "bar", "color": "#08306b", "binSpacing": 0},
       "encoding": {
         "x": {"field": "date", "timeUnit": "utcyearmonthdate", "type": "temporal", "scale": {"type": "utc", "domain": [{"year":2020,"month":9,"date":26,"utc":true},{"year":2021,"month":4,"date":8,"utc":true}]},
               "axis": {"title": null, "values": [{"year":2020,"month":10,"date":1,"utc":true},{"year":2020,"month":10,"date":16,"utc":true},{"year":2020,"month":11,"date":1,"utc":true},{"year":2020,"month":11,"date":16,"utc":true},{"year":2020,"month":12,"date":1,"utc":true},{"year":2020,"month":12,"date":16,"utc":true},{"year":2021,"month":1,"date":1,"utc":true},{"year":2021,"month":1,"date":16,"utc":true},{"year":2021,"month":2,"date":1,"utc":true},{"year":2021,"month":2,"date":15,"utc":true},{"year":2021,"month":3,"date":1,"utc":true},{"year":2021,"month":3,"date":16,"utc":true},{"year":2021,"month":4,"date":1,"utc":true}],
                        "labelExpr": "utcdate(datum.value) === 1 ? utcFormat(datum.value, '%b %Y') : ''", "labelAngle": 270, "labelAlign": "right", "labelBaseline": "middle", "labelPadding": 4,
                        "tickOpacity": {"condition": {"test": "utcdate(datum.value) === 1", "value": 1}, "value": 0},
                        "gridWidth": {"condition": {"test": "utcdate(datum.value) === 1", "value": 1.5}, "value": 0.75}}},
         "y": {"field": "n", "type": "quantitative", "scale": {"domain": [-0.4, 8.4], "range": [364, 42], "nice": false, "zero": false},
               "axis": {"title": null, "values": [0,1,2,3,4,5,6,7,8], "labelExpr": "datum.value % 2 === 0 ? format(datum.value, 'd') : ''",
                        "tickOpacity": {"condition": {"test": "datum.value % 2 === 0", "value": 1}, "value": 0},
                        "gridWidth": {"condition": {"test": "datum.value % 2 === 0", "value": 1.5}, "value": 0.75}}},
         "y2": {"datum": 0}
       }},
      {"data": {"name": "strips"}, "transform": [{"filter": "datum.panel === 'P.1'"}],
       "mark": {"type": "rect", "fill": "#d9d9d9", "stroke": "#333333", "strokeWidth": 1.4, "clip": true},
       "encoding": {"x": {"datum": {"year":2020,"month":9,"date":1,"utc":true}, "type": "temporal"}, "x2": {"datum": {"year":2021,"month":5,"date":1,"utc":true}}, "y": {"datum": 8.4}, "y2": {"datum": 50}}},
      {"data": {"name": "strips"}, "transform": [{"filter": "datum.panel === 'P.1'"}],
       "mark": {"type": "text", "fontSize": 23, "fontWeight": "bold", "color": "#1a1a1a", "align": "right", "baseline": "middle", "dx": 5.5},
       "encoding": {"text": {"field": "panel"}, "y": {"datum": 8.974}}},
      {"data": {"name": "strips"}, "transform": [{"filter": "datum.panel === 'P.1'"}],
       "mark": {"type": "text", "fontSize": 23, "color": "#1a1a1a", "align": "left", "baseline": "middle", "dx": 12},
       "encoding": {"text": {"field": "n"}, "y": {"datum": 8.974}}},
      {"data": {"name": "n5"}, "transform": [{"filter": "datum.ax != null"}], "mark": {"type": "rule", "strokeWidth": 1.2},
       "encoding": {"x": {"field": "ax", "type": "temporal"}, "x2": {"field": "bx"}, "y": {"field": "ay", "type": "quantitative"}, "y2": {"field": "by"},
                    "color": {"field": "kind", "type": "nominal", "scale": {"domain": ["blue","red"], "range": ["#2b57c5","#c0232c"]}, "legend": null}}},
      {"data": {"name": "n5"}, "transform": [{"filter": "datum.ax != null"}], "mark": {"type": "point", "shape": "M0,0L0.45,1L-0.45,1Z", "filled": true, "size": 200, "opacity": 1, "strokeWidth": 0},
       "encoding": {"x": {"field": "bx", "type": "temporal"}, "y": {"field": "by", "type": "quantitative"}, "angle": {"field": "ang", "type": "quantitative", "scale": null},
                    "color": {"field": "kind", "type": "nominal", "scale": {"domain": ["blue","red"], "range": ["#2b57c5","#c0232c"]}, "legend": null}}},
      {"data": {"name": "n5"}, "transform": [{"filter": "datum.kind === 'red' && datum.label != null"}], "mark": {"type": "text", "fontSize": 20, "fontWeight": "bold", "lineHeight": 21.5, "color": "#c0232c", "align": "center", "baseline": "middle"},
       "encoding": {"x": {"field": "tx", "type": "temporal"}, "y": {"field": "ty", "type": "quantitative"}, "text": {"field": "label", "type": "nominal"}}}
    ]
  },
  {
    "width": 416, "height": 364,
    "layer": [
      {"data": {"name": "b351"}, "mark": {"type": "bar", "color": "#08306b", "binSpacing": 0},
       "encoding": {
         "x": {"field": "date", "timeUnit": "utcyearmonthdate", "type": "temporal", "scale": {"type": "utc", "domain": [{"year":2020,"month":9,"date":26,"utc":true},{"year":2021,"month":4,"date":8,"utc":true}]},
               "axis": {"title": null, "values": [{"year":2020,"month":10,"date":1,"utc":true},{"year":2020,"month":10,"date":16,"utc":true},{"year":2020,"month":11,"date":1,"utc":true},{"year":2020,"month":11,"date":16,"utc":true},{"year":2020,"month":12,"date":1,"utc":true},{"year":2020,"month":12,"date":16,"utc":true},{"year":2021,"month":1,"date":1,"utc":true},{"year":2021,"month":1,"date":16,"utc":true},{"year":2021,"month":2,"date":1,"utc":true},{"year":2021,"month":2,"date":15,"utc":true},{"year":2021,"month":3,"date":1,"utc":true},{"year":2021,"month":3,"date":16,"utc":true},{"year":2021,"month":4,"date":1,"utc":true}],
                        "labelExpr": "utcdate(datum.value) === 1 ? utcFormat(datum.value, '%b %Y') : ''", "labelAngle": 270, "labelAlign": "right", "labelBaseline": "middle", "labelPadding": 4,
                        "tickOpacity": {"condition": {"test": "utcdate(datum.value) === 1", "value": 1}, "value": 0},
                        "gridWidth": {"condition": {"test": "utcdate(datum.value) === 1", "value": 1.5}, "value": 0.75}}},
         "y": {"field": "n", "type": "quantitative", "scale": {"domain": [-0.2, 4.2], "range": [364, 42], "nice": false, "zero": false},
               "axis": {"title": null, "values": [0,0.5,1,1.5,2,2.5,3,3.5,4], "labelExpr": "datum.value % 1 === 0 ? format(datum.value, 'd') : ''",
                        "tickOpacity": {"condition": {"test": "datum.value % 1 === 0", "value": 1}, "value": 0},
                        "gridWidth": {"condition": {"test": "datum.value % 1 === 0", "value": 1.5}, "value": 0.75}}},
         "y2": {"datum": 0}
       }},
      {"data": {"name": "strips"}, "transform": [{"filter": "datum.panel === 'B.1.351'"}],
       "mark": {"type": "rect", "fill": "#d9d9d9", "stroke": "#333333", "strokeWidth": 1.4, "clip": true},
       "encoding": {"x": {"datum": {"year":2020,"month":9,"date":1,"utc":true}, "type": "temporal"}, "x2": {"datum": {"year":2021,"month":5,"date":1,"utc":true}}, "y": {"datum": 4.2}, "y2": {"datum": 30}}},
      {"data": {"name": "strips"}, "transform": [{"filter": "datum.panel === 'B.1.351'"}],
       "mark": {"type": "text", "fontSize": 23, "fontWeight": "bold", "color": "#1a1a1a", "align": "right", "baseline": "middle", "dx": 28.5},
       "encoding": {"text": {"field": "panel"}, "y": {"datum": 4.487}}},
      {"data": {"name": "strips"}, "transform": [{"filter": "datum.panel === 'B.1.351'"}],
       "mark": {"type": "text", "fontSize": 23, "color": "#1a1a1a", "align": "left", "baseline": "middle", "dx": 35},
       "encoding": {"text": {"field": "n"}, "y": {"datum": 4.487}}},
      {"data": {"name": "n6"}, "transform": [{"filter": "datum.ax != null"}], "mark": {"type": "rule", "strokeWidth": 1.2},
       "encoding": {"x": {"field": "ax", "type": "temporal"}, "x2": {"field": "bx"}, "y": {"field": "ay", "type": "quantitative"}, "y2": {"field": "by"},
                    "color": {"field": "kind", "type": "nominal", "scale": {"domain": ["blue","red"], "range": ["#2b57c5","#c0232c"]}, "legend": null}}},
      {"data": {"name": "n6"}, "transform": [{"filter": "datum.ax != null"}], "mark": {"type": "point", "shape": "M0,0L0.45,1L-0.45,1Z", "filled": true, "size": 200, "opacity": 1, "strokeWidth": 0},
       "encoding": {"x": {"field": "bx", "type": "temporal"}, "y": {"field": "by", "type": "quantitative"}, "angle": {"field": "ang", "type": "quantitative", "scale": null},
                    "color": {"field": "kind", "type": "nominal", "scale": {"domain": ["blue","red"], "range": ["#2b57c5","#c0232c"]}, "legend": null}}},
      {"data": {"name": "n6"}, "transform": [{"filter": "datum.kind === 'red' && datum.label != null"}], "mark": {"type": "text", "fontSize": 20, "fontWeight": "bold", "lineHeight": 21.5, "color": "#c0232c", "align": "center", "baseline": "middle"},
       "encoding": {"x": {"field": "tx", "type": "temporal"}, "y": {"field": "ty", "type": "quantitative"}, "text": {"field": "label", "type": "nominal"}}}
    ]
  }
]
}
